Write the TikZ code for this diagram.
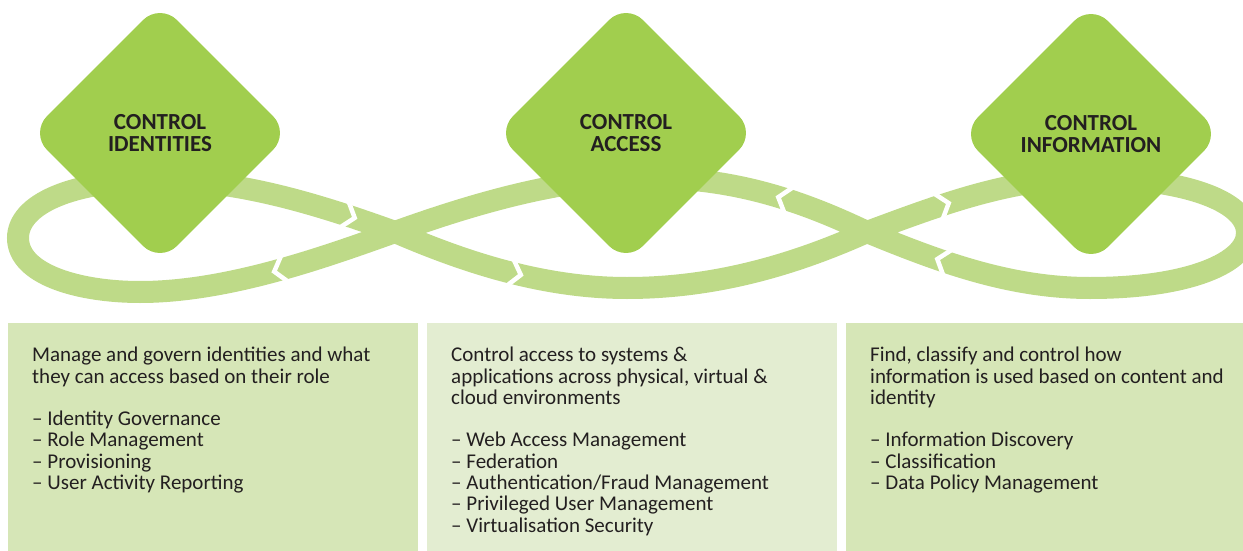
\documentclass[tikz,border=0pt]{standalone}
\usepackage{fontspec}
\setmainfont{Carlito}
\usetikzlibrary{shapes.geometric,calc}
\definecolor{leaf}{HTML}{A1CE4E}
\definecolor{band}{HTML}{BEDA88}
\definecolor{paneldark}{HTML}{D6E6B7}
\definecolor{panellight}{HTML}{E3EDD1}
\definecolor{ink}{HTML}{231F20}

\begin{document}
\begin{tikzpicture}[x=1pt,y=-1pt,
  ctrl/.style={shape=diamond, aspect=1, fill=leaf, minimum width=260pt, minimum height=260pt,
    inner sep=0pt, rounded corners=24pt, align=center, text=ink,
    font=\fontsize{23}{22.5}\selectfont\bfseries},
  panel/.style={anchor=north west, minimum height=228pt, inner sep=0pt},
  paneltext/.style={anchor=north west, inner sep=0pt, align=left, text=ink,
    font=\fontsize{21}{21.3}\selectfont},
  cut/.style={white, line width=4.5pt}]
\useasboundingbox (0,0) rectangle (1243,551);
% ribbon
\draw[band, line width=22pt] (395,232) .. controls (470,205) and (560,178) .. (640,178)
  .. controls (730,176) and (800,200) .. (867,232)
  .. controls (940,262) and (1010,288) .. (1090,288)
  .. controls (1190,288) and (1247,262) .. (1247,233)
  .. controls (1247,200) and (1180,178) .. (1090,178)
  .. controls (1010,178) and (940,205) .. (867,232)
  .. controls (800,262) and (720,288) .. (627,288)
  .. controls (540,288) and (460,260) .. (395,232)
  .. controls (320,205) and (240,180) .. (160,180)
  .. controls (70,180) and (18,205) .. (18,238)
  .. controls (18,275) and (80,292) .. (140,292)
  .. controls (230,292) and (330,255) .. (395,232);
\foreach \x/\y/\a in {784/199/17.5, 943/261/18.7, 943/205/161.9,
    515/273.5/193.9, 349/216/198.3, 280/270/-15.3}
  \draw[cut] ($(\x,\y)+({\a+90}:15)+(\a:6)$) -- ($(\x,\y)+(\a:-6)$)
    -- ($(\x,\y)+({\a-90}:15)+(\a:6)$);
% diamonds
\node[ctrl] (ident) at (160,133) {CONTROL\\IDENTITIES};
\node[ctrl] (access) at (626,133) {CONTROL\\ACCESS};
\node[ctrl] (info) at (1091,134) {CONTROL\\INFORMATION};
% panels
\node[panel, fill=paneldark, minimum width=410pt] (p1) at (8,323) {};
\node[panel, fill=panellight, minimum width=410pt] (p2) at (427,323) {};
\node[panel, fill=paneldark, minimum width=397pt] (p3) at (846,323) {};
\node[paneltext] (t1) at ($(p1.north west)+(24,24)$) {Manage and govern identities and what\\
  they can access based on their role\\[21.3pt]
  – Identity Governance\\– Role Management\\– Provisioning\\– User Activity Reporting};
\node[paneltext] (t2) at ($(p2.north west)+(24,24)$) {Control access to systems \&\\
  applications across physical, virtual \&\\cloud environments\\[21.3pt]
  – Web Access Management\\– Federation\\– Authentication/Fraud Management\\
  – Privileged User Management\\– Virtualisation Security};
\node[paneltext] (t3) at ($(p3.north west)+(24,24)$) {Find, classify and control how\\
  information is used based on content and\\identity\\[21.3pt]
  – Information Discovery\\– Classification\\– Data Policy Management};
\end{tikzpicture}
\end{document}
